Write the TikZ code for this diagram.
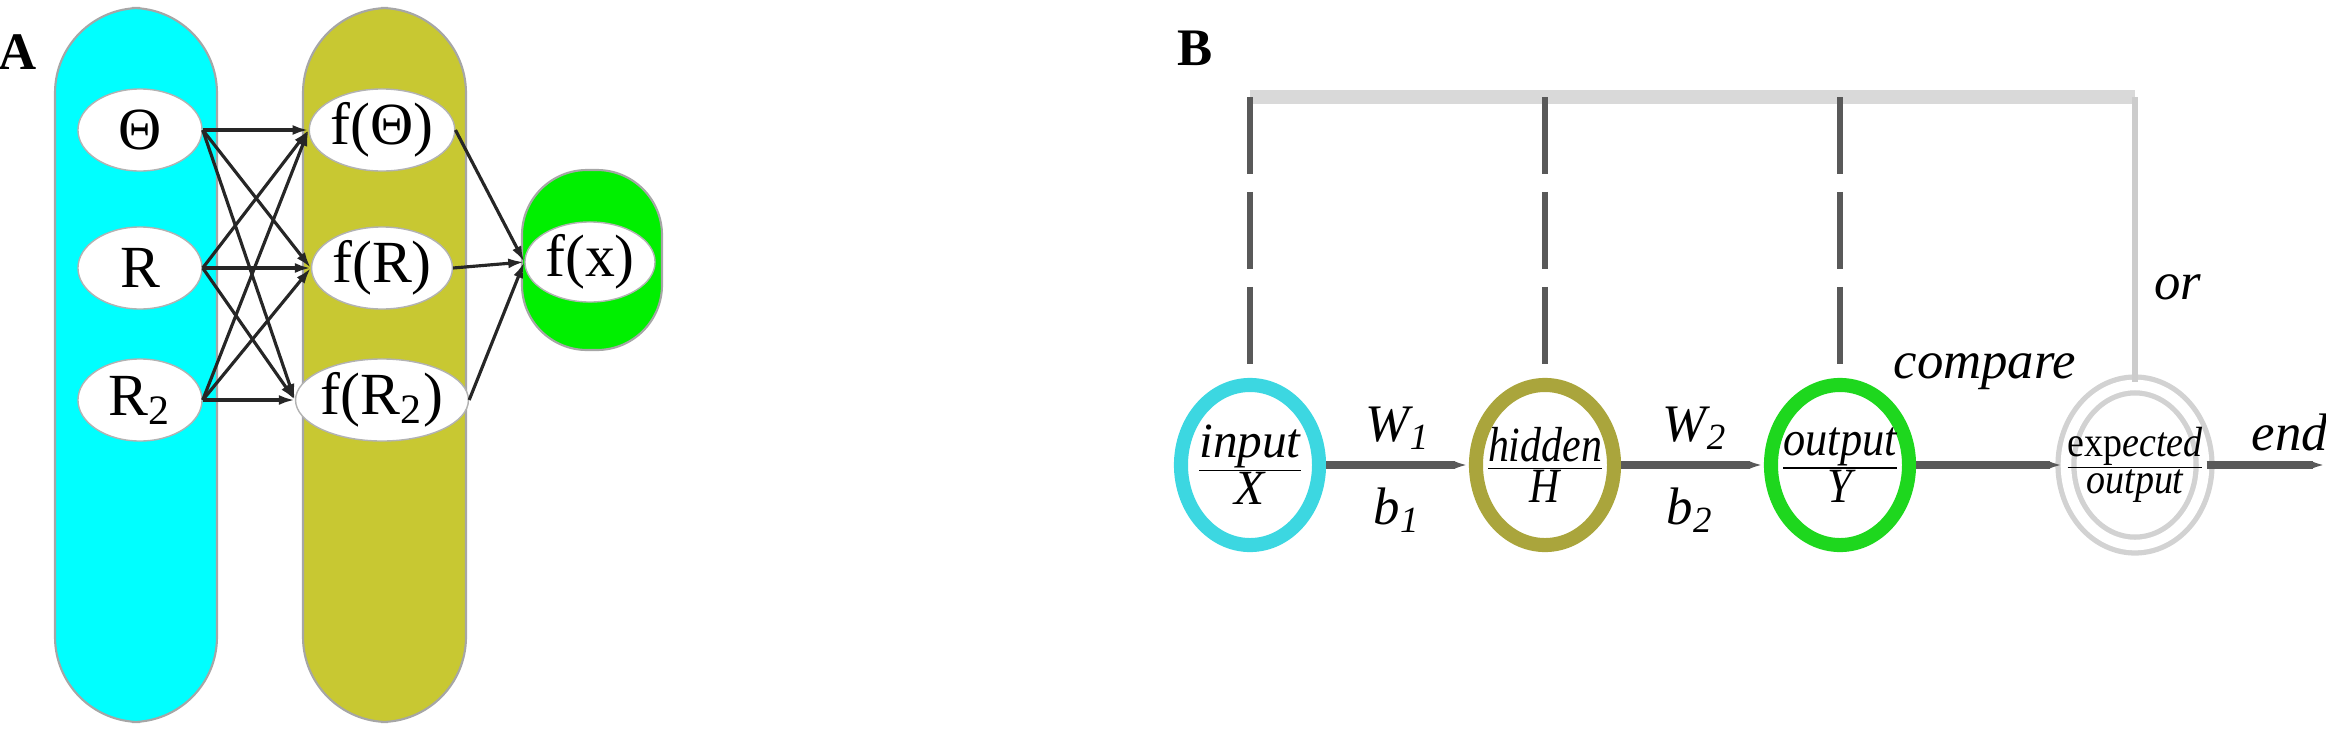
\documentclass[tikz,border=0pt]{standalone}
\usepackage{fontspec}
\setmainfont{Liberation Serif}
\usetikzlibrary{arrows.meta,shapes.geometric}
\definecolor{cy}{RGB}{0,255,255}
\definecolor{ol}{RGB}{200,200,50}
\definecolor{gr}{RGB}{0,240,0}
\definecolor{bcy}{RGB}{60,215,225}
\definecolor{bol}{RGB}{170,165,60}
\definecolor{bgr}{RGB}{30,215,30}
\begin{document}
\begin{tikzpicture}[x=0.01cm,y=-0.01cm,
  lay/.style={draw=gray!70,rounded corners=0.85cm,line width=0.6pt},
  neu/.style={ellipse,draw=gray!60,fill=white,minimum width=1.24cm,minimum height=0.82cm,inner sep=0pt,font=\fontsize{17}{17}\selectfont},
  con/.style={-{Latex[length=0.16cm,width=0.1cm]},line width=0.9pt,black!85},
  bc/.style={ellipse,line width=4pt,minimum width=1.38cm,minimum height=1.6cm,fill=white,inner sep=0pt},
  lab/.style={font=\fontsize{15}{15}\selectfont\itshape},
  fr/.style={font=\fontsize{14}{14}\selectfont\itshape},
  fl/.style={-{Latex[length=0.15cm,width=0.08cm]},line width=2pt,black!65}]
\useasboundingbox (0,0) rectangle (2326,730);
\node[font=\bfseries\fontsize{15}{15}\selectfont] (A) at (18,52) {A};
\node[font=\bfseries\fontsize{15}{15}\selectfont] (B) at (1195,48) {B};
% part A
\draw[lay,fill=cy] (55,8) rectangle (217,722);
\draw[lay,fill=ol] (303,8) rectangle (466,722);
\draw[lay,fill=gr,rounded corners=0.65cm] (522,170) rectangle (662,350);
\node[neu] (i1) at (140,130) {Θ};
\node[neu] (i2) at (140,268) {R};
\node[neu] (i3) at (140,400) {R\textsubscript{2}};
\node[neu] (h1) at (382,130) {f(Θ)};
\node[neu] (h2) at (382,268) {f(R)};
\node[neu] (h3) at (382,400) {f(R\textsubscript{2})};
\node[neu,minimum width=1.3cm,minimum height=0.8cm] (o) at (590,262) {f(x)};
\foreach \a in {1,2,3}{\foreach \b in {1,2,3}{
  \draw[con] (i\a.east) -- (h\b.west);}}
\foreach \b in {1,2,3}{\draw[con] (h\b.east) -- (o.west);}
% part B
\coordinate (t1) at (1250,97);
\coordinate (t2) at (1545,97);
\coordinate (t3) at (1840,97);
\coordinate (t4) at (2135,97);
\draw[line width=4pt,gray!30] (t1) -- (t4);
\node[bc,draw=bcy] (X) at (1250,465) {};
\node[bc,draw=bol] (H) at (1545,465) {};
\node[bc,draw=bgr] (Y) at (1840,465) {};
\node[bc,draw=gray!35,double=white,double distance=3pt,line width=1.5pt] (E) at (2135,465) {};
\coordinate (endp) at (2326,465);
\draw[dashed,dash pattern=on 22pt off 5pt,line width=1.5pt,black!65] (t1) -- (X.north);
\draw[dashed,dash pattern=on 22pt off 5pt,line width=1.5pt,black!65] (t2) -- (H.north);
\draw[dashed,dash pattern=on 22pt off 5pt,line width=1.5pt,black!65] (t3) -- (Y.north);
\draw[line width=1.5pt,gray!40] (t4) -- (E.north);
\draw[fl] (X.east) -- (H.west);
\draw[fl] (H.east) -- (Y.west);
\draw[fl] (Y.east) -- (E.west);
\draw[fl] (E.east) -- (endp);
\node[fr] at (X.center) {$\frac{\textit{input}}{\textit{X}}$};
\node[fr] at (H.center) {\scalebox{0.85}[1]{$\frac{\textit{hidden}}{\textit{H}}$}};
\node[fr] at (Y.center) {\scalebox{0.9}[1]{$\frac{\textit{output}}{\textit{Y}}$}};
\node[font=\fontsize{12}{12}\selectfont] at (E.center) {\scalebox{0.9}[1]{$\frac{\textrm{exp}\textit{ected}}{\textit{output}}$}};
\node[lab] (w1) at (1398,428) {W\textsubscript{1}};
\node[lab] (b1) at (1397,510) {b\textsubscript{1}};
\node[lab] (w2) at (1695,428) {W\textsubscript{2}};
\node[lab] (b2) at (1690,510) {b\textsubscript{2}};
\node[lab] (cmp) at (1985,372) {compare};
\node[lab] (or) at (2178,287) {or};
\node[lab] (en) at (2290,432) {end};
\end{tikzpicture}
\end{document}
